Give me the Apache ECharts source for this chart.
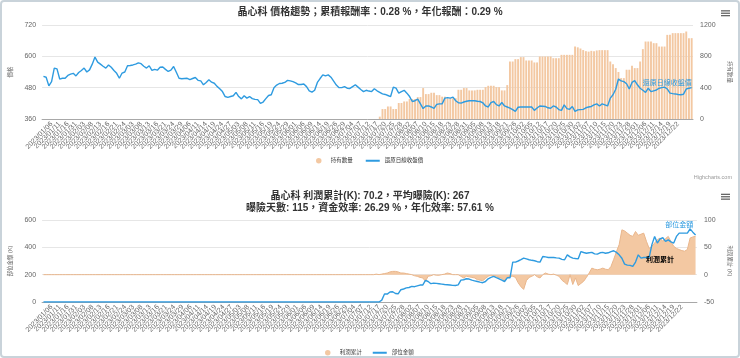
<!DOCTYPE html>
<html><head><meta charset="utf-8">
<script src="https://cdn.jsdelivr.net/npm/echarts@6/dist/echarts.min.js"></script>
<style>
html,body{margin:0;padding:0;background:#fff;}
#c{position:absolute;left:0;top:0;width:740px;height:358px;}
#frame{position:absolute;left:0;top:0;width:740px;height:358px;box-sizing:border-box;border:2px solid #c9d3da;border-radius:4px;pointer-events:none;}
</style></head>
<body><div id="c"></div><div id="frame"></div>
<script>
const dates = [
'2023/01/03','2023/01/04','2023/01/05','2023/01/06','2023/01/09','2023/01/10','2023/01/11','2023/01/12','2023/01/13','2023/01/16','2023/01/17','2023/01/30','2023/01/31',
'2023/02/01','2023/02/02','2023/02/03','2023/02/06','2023/02/07','2023/02/08','2023/02/09','2023/02/10','2023/02/13','2023/02/14','2023/02/15','2023/02/16','2023/02/17','2023/02/20','2023/02/21','2023/02/22','2023/02/23','2023/02/24',
'2023/03/01','2023/03/02','2023/03/03','2023/03/06','2023/03/07','2023/03/08','2023/03/09','2023/03/10','2023/03/13','2023/03/14','2023/03/15','2023/03/16','2023/03/17','2023/03/20','2023/03/21','2023/03/22','2023/03/23','2023/03/24','2023/03/27','2023/03/28','2023/03/29','2023/03/30','2023/03/31',
'2023/04/06','2023/04/07','2023/04/10','2023/04/11','2023/04/12','2023/04/13','2023/04/14','2023/04/17','2023/04/18','2023/04/19','2023/04/20','2023/04/21','2023/04/24','2023/04/25','2023/04/26','2023/04/27','2023/04/28',
'2023/05/02','2023/05/03','2023/05/04','2023/05/05','2023/05/08','2023/05/09','2023/05/10','2023/05/11','2023/05/12','2023/05/15','2023/05/16','2023/05/17','2023/05/18','2023/05/19','2023/05/22','2023/05/23','2023/05/24','2023/05/25','2023/05/26','2023/05/29','2023/05/30','2023/05/31',
'2023/06/01','2023/06/02','2023/06/05','2023/06/06','2023/06/07','2023/06/08','2023/06/09','2023/06/12','2023/06/13','2023/06/14','2023/06/15','2023/06/16','2023/06/19','2023/06/20','2023/06/21','2023/06/26','2023/06/27','2023/06/28','2023/06/29','2023/06/30',
'2023/07/03','2023/07/04','2023/07/05','2023/07/06','2023/07/07','2023/07/10','2023/07/11','2023/07/12','2023/07/13','2023/07/14','2023/07/17','2023/07/18','2023/07/19','2023/07/20','2023/07/21','2023/07/24','2023/07/25','2023/07/26','2023/07/27','2023/07/28','2023/07/31',
'2023/08/01','2023/08/02','2023/08/03','2023/08/04','2023/08/07','2023/08/08','2023/08/09','2023/08/10','2023/08/11','2023/08/14','2023/08/15','2023/08/16','2023/08/17','2023/08/18','2023/08/21','2023/08/22','2023/08/23','2023/08/24','2023/08/25','2023/08/28','2023/08/29','2023/08/30','2023/08/31',
'2023/09/01','2023/09/04','2023/09/05','2023/09/06','2023/09/07','2023/09/08','2023/09/11','2023/09/12','2023/09/13','2023/09/14','2023/09/15','2023/09/18','2023/09/19','2023/09/20','2023/09/21','2023/09/22','2023/09/25','2023/09/26','2023/09/27','2023/09/28',
'2023/10/02','2023/10/03','2023/10/04','2023/10/05','2023/10/06','2023/10/11','2023/10/12','2023/10/13','2023/10/16','2023/10/17','2023/10/18','2023/10/19','2023/10/20','2023/10/23','2023/10/24','2023/10/25','2023/10/26','2023/10/27','2023/10/30','2023/10/31',
'2023/11/01','2023/11/02','2023/11/03','2023/11/06','2023/11/07','2023/11/08','2023/11/09','2023/11/10','2023/11/13','2023/11/14','2023/11/15','2023/11/16','2023/11/17','2023/11/20','2023/11/21','2023/11/22','2023/11/23','2023/11/24','2023/11/27','2023/11/28','2023/11/29','2023/11/30',
'2023/12/01','2023/12/04','2023/12/05','2023/12/06','2023/12/07','2023/12/08','2023/12/11','2023/12/12','2023/12/13','2023/12/14','2023/12/15','2023/12/18','2023/12/19','2023/12/20','2023/12/21','2023/12/22','2023/12/25','2023/12/26','2023/12/27','2023/12/28','2023/12/29'
];

// 還原日線收盤價
const price = [
523,520,487,503,555,552,513,516,516,527,
532,535,525,538,546,555,540,548,570,597,
578,570,562,555,567,558,546,535,516,536,
540,564,565,567,570,575,572,562,555,564,
546,550,547,558,559,550,542,547,561,539,
516,514,515,516,511,515,519,508,506,491,
500,510,501,497,485,476,465,446,443,446,
449,462,446,437,449,440,446,438,435,434,
420,425,438,450,453,480,490,496,497,500,
508,506,503,498,492,492,494,484,468,463,
470,500,515,529,525,529,520,505,490,480,
480,484,478,477,484,491,482,473,465,470,
467,465,476,468,462,456,454,450,446,482,
478,459,465,470,459,446,427,430,436,418,
400,410,410,406,401,416,418,418,440,442,
440,444,430,422,421,425,428,430,430,430,
428,427,422,410,406,423,427,415,410,423,
410,406,402,396,389,405,406,406,406,406,
406,393,402,410,409,408,403,401,410,406,
396,393,414,400,397,408,389,395,396,397,
403,406,408,414,418,410,418,414,410,440,
453,474,513,506,503,495,475,500,507,491,
478,470,462,478,465,468,471,478,480,482,
475,459,457,456,454,453,455,475,478,480
];

// 持有數量
const holdings = [
0,0,0,0,0,0,0,0,0,0, 0,0,0,0,0,0,0,0,0,0,
0,0,0,0,0,0,0,0,0,0, 0,0,0,0,0,0,0,0,0,0,
0,0,0,0,0,0,0,0,0,0, 0,0,0,0,0,0,0,0,0,0,
0,0,0,0,0,0,0,0,0,0, 0,0,0,0,0,0,0,0,0,0,
0,0,0,0,0,0,0,0,0,0, 0,0,0,0,0,0,0,0,0,0,
0,0,0,0,0,0,0,0,0,0, 0,0,0,0,0,0,0,0,0,0,
0,0,0,0,30,127,127,160,160,127,
127,204,204,224,224,255,255,255,280,280,
395,318,318,335,335,305,305,285,285,265,
265,265,265,373,373,395,395,365,365,365,
373,373,373,407,424,424,424,407,407,365,
365,433,734,734,764,764,790,790,747,747,
747,722,722,798,798,798,798,798,776,776,
776,819,819,819,819,819,925,915,900,880,
866,860,870,866,875,879,879,879,879,734,
700,650,600,522,522,629,629,680,650,650,
734,892,989,989,989,968,968,925,925,925,
1074,1074,1096,1096,1096,1096,1096,1117,1032,1032
];

// 利潤累計 (K)
const profit = [
0,0,0,0,0,0,0,0,0,0, 0,0,0,0,0,0,0,0,0,0,
0,0,0,0,0,0,0,0,0,0, 0,0,0,0,0,0,0,0,0,0,
0,0,0,0,0,0,0,0,0,0, 0,0,0,0,0,0,0,0,0,0,
0,0,0,0,0,0,0,0,0,0, 0,0,0,0,0,0,0,0,0,0,
0,0,0,0,0,0,0,0,0,0, 0,0,0,0,0,0,0,0,0,0,
0,0,0,0,0,0,0,0,0,0, 0,0,0,0,0,0,0,0,0,0,
0,0,1,0,1,2,3,5,6,6,
5,3,3,2,1,0,-2,-3,-5,-6,
-12,-3,-2,0,-1,-1,0,1,3,2,
0,0,0,-3,-6,-3,-4,-5,-6,-9,
-10,-11,-7,-3,-1,-2,-3,-5,-7,-11,
-4,-3,-3,-5,-15,-22,-27,-11,-5,-3,
0,-4,-6,0,3,1,0,1,-1,-3,
-10,-14,-18,0,-18,-6,-20,-16,-12,-5,
3,12,10,9,10,12,10,9,15,28,
42,55,82,80,76,72,70,79,72,74,
76,61,48,52,58,64,67,61,66,70,
60,52,48,46,44,43,46,67,69,70.2
];

// 部位金額 (K)
const position = [
0,0,0,0,0,0,0,0,0,0, 0,0,0,0,0,0,0,0,0,0,
0,0,0,0,0,0,0,0,0,0, 0,0,0,0,0,0,0,0,0,0,
0,0,0,0,0,0,0,0,0,0, 0,0,0,0,0,0,0,0,0,0,
0,0,0,0,0,0,0,0,0,0, 0,0,0,0,0,0,0,0,0,0,
0,0,0,0,0,0,0,0,0,0, 0,0,0,0,0,0,0,0,0,0,
0,0,0,0,0,0,0,0,0,0, 0,0,0,0,0,0,0,0,0,0,
0,0,0,0,14,58,58,73,75,62,
60,90,95,103,106,114,112,118,124,124,
158,150,134,138,136,134,131,128,126,124,
122,121,125,160,163,170,168,160,155,150,
145,141,150,170,180,187,178,170,160,150,
177,177,292,292,300,310,321,315,309,305,
302,295,292,333,330,326,326,326,323,321,
312,309,345,330,321,318,316,369,362,357,
360,363,352,350,360,363,357,360,369,375,
363,345,320,277,270,268,260,292,345,321,
326,326,326,420,479,431,462,470,443,455,
440,431,480,504,504,504,504,535,511,491
];

const priceAxis = {min: 360, max: 720, interval: 120};
const qtyAxis = {min: 0, max: 1200, interval: 400};
const posAxis = {min: 0, max: 600, interval: 200};
const profitAxis = {min: -50, max: 100, interval: 50};

const FONT = "'Liberation Sans','Noto Sans CJK TC',sans-serif";
const BLUE = '#2e9be0';
const PEACH = '#f3c8a2';
const GRID_L = 33, GRID_R = 42;
const HIDDEN = {color: 'rgba(0,0,0,0)', borderColor: 'rgba(0,0,0,0)', borderWidth: 0};

function xAxisFor(idx) {
  return {
    type: 'category', gridIndex: idx, data: dates, boundaryGap: true,
    axisLine: {lineStyle: {color: '#a8a8a8', width: 1}},
    axisTick: {show: false},
    axisLabel: {interval: 2, rotate: 45, fontSize: 7, color: '#666', margin: 4, fontFamily: FONT}
  };
}
function yAxisFor(idx, ax, side, name, grid) {
  return {
    type: 'value', gridIndex: idx, min: ax.min, max: ax.max, interval: ax.interval,
    position: side, name: name, nameLocation: 'middle',
    nameRotate: side === 'left' ? 90 : -90, nameGap: side === 'left' ? 22 : 25,
    nameTextStyle: {fontSize: 5.5, color: '#666', fontFamily: FONT},
    axisLine: {show: false}, axisTick: {show: false},
    axisLabel: {fontSize: 7, color: '#666', margin: side === 'left' ? 6 : 7, fontFamily: FONT,
                formatter: v => String(v)},
    splitLine: {show: grid, lineStyle: {color: '#e6e6e6', width: 1}}
  };
}
function hamburger(top) {
  return {type: 'group', left: 721, top: top, children: [0, 2.4, 4.8].map(y => ({
    type: 'rect', shape: {x: 0, y: y, width: 9, height: 1.3}, style: {fill: '#666'}
  }))};
}

const chart = echarts.init(document.getElementById('c'), null, {renderer: 'canvas'});
chart.setOption({
  animation: false,
  textStyle: {fontFamily: FONT},
  title: [
    {text: '晶心科 價格趨勢；累積報酬率：0.28 %，年化報酬：0.29 %', left: 'center', top: 2,
     textStyle: {fontSize: 10, fontWeight: 'bold', color: '#333', fontFamily: FONT}},
    {text: '晶心科 利潤累計(K): 70.2，平均曝險(K): 267', left: 'center', top: 186,
     textStyle: {fontSize: 10, fontWeight: 'bold', color: '#333', fontFamily: FONT}},
    {text: '曝險天數: 115，資金效率: 26.29 %，年化效率: 57.61 %', left: 'center', top: 198.5,
     textStyle: {fontSize: 10, fontWeight: 'bold', color: '#333', fontFamily: FONT}}
  ],
  legend: [
    {left: 311, top: 153, itemWidth: 14, itemHeight: 5.5, itemGap: 12,
     textStyle: {fontSize: 5.5, color: '#333', fontFamily: FONT},
     data: [{name: '持有數量', icon: 'circle'}, {name: '還原日線收盤價', itemStyle: HIDDEN}]},
    {left: 320, top: 345, itemWidth: 14, itemHeight: 5.5, itemGap: 10,
     textStyle: {fontSize: 5.5, color: '#333', fontFamily: FONT},
     data: [{name: '利潤累計', icon: 'circle'}, {name: '部位金額', itemStyle: HIDDEN}]}
  ],
  grid: [
    {left: GRID_L, right: GRID_R, top: 25, height: 94},
    {left: GRID_L, right: GRID_R, top: 220, height: 82}
  ],
  xAxis: [xAxisFor(0), xAxisFor(1)],
  yAxis: [
    yAxisFor(0, priceAxis, 'left', '價格', true),
    yAxisFor(0, qtyAxis, 'right', '持有數量', false),
    yAxisFor(1, posAxis, 'left', '部位金額 (K)', true),
    yAxisFor(1, profitAxis, 'right', '利潤累計 (K)', false)
  ],
  graphic: [
    hamburger(10.2),
    hamburger(193.7),
    {type: 'text', right: 8, top: 175, style: {text: 'Highcharts.com', fontSize: 5.5, fill: '#999', fontFamily: FONT}}
  ],
  series: [
    {name: '持有數量', type: 'bar', xAxisIndex: 0, yAxisIndex: 1, data: holdings,
     barWidth: '70%', itemStyle: {color: PEACH}, z: 1},
    {name: '還原日線收盤價', type: 'line', xAxisIndex: 0, yAxisIndex: 0, data: price,
     symbol: 'none', lineStyle: {color: BLUE, width: 1.4}, itemStyle: {color: BLUE}, z: 3,
     markPoint: {symbol: 'circle', symbolSize: 0, silent: true,
       label: {show: true, position: 'top', distance: 2, formatter: '還原日線收盤價', color: BLUE, fontSize: 7, fontFamily: FONT},
       data: [{coord: [dates[230], price[230]]}]}},
    {name: '利潤累計', type: 'line', xAxisIndex: 1, yAxisIndex: 3, data: profit,
     symbol: 'none', lineStyle: {color: '#e9b68c', width: 1}, itemStyle: {color: PEACH},
     areaStyle: {color: PEACH, opacity: 1}, z: 1,
     markPoint: {symbol: 'circle', symbolSize: 0, silent: true,
       label: {show: true, position: 'bottom', distance: 19, formatter: '利潤累計', color: '#000', fontWeight: 'bold', fontSize: 7, fontFamily: FONT},
       data: [{coord: [dates[226], profit[226]]}]}},
    {name: '部位金額', type: 'line', xAxisIndex: 1, yAxisIndex: 2, data: position,
     symbol: 'none', lineStyle: {color: BLUE, width: 1.4}, itemStyle: {color: BLUE}, z: 3,
     markPoint: {symbol: 'circle', symbolSize: 0, silent: true,
       label: {show: true, position: 'top', distance: 5, formatter: '部位金額', color: BLUE, fontSize: 7, fontFamily: FONT},
       data: [{coord: [dates[233], position[233]]}]}}
  ]
});
</script>
</body></html>
